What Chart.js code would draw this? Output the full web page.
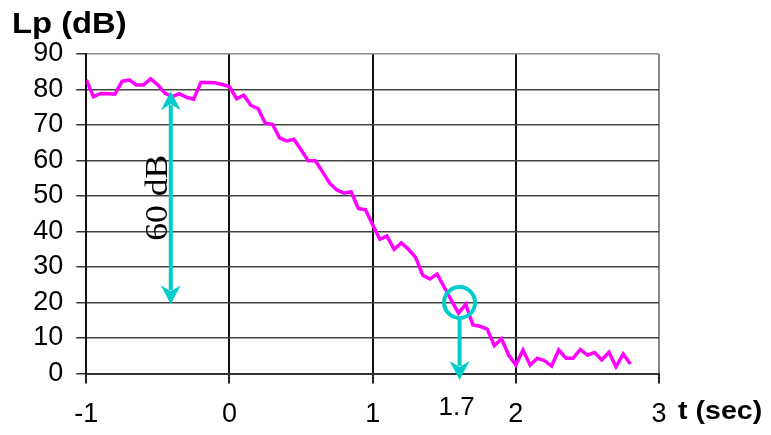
<!DOCTYPE html>
<html>
<head>
<meta charset="utf-8">
<script src="https://cdn.jsdelivr.net/npm/chart.js@4.4.0/dist/chart.umd.min.js"></script>
<style>
  html, body { margin: 0; padding: 0; background: #ffffff; }
  #wrap { width: 771px; height: 435px; }
</style>
</head>
<body>
<div id="wrap"><canvas id="decay" width="771" height="435"></canvas></div>
<script>
// Sound pressure level decay after the source is switched off (t = 0)
const times = [
  -1.00, -0.95, -0.90, -0.85, -0.80, -0.75, -0.70, -0.65, -0.60, -0.55,
  -0.50, -0.45, -0.40, -0.35, -0.30, -0.25, -0.20, -0.15, -0.10, -0.05,
   0.00,  0.05,  0.10,  0.15,  0.20,  0.25,  0.30,  0.35,  0.40,  0.45,
   0.50,  0.55,  0.60,  0.65,  0.70,  0.75,  0.80,  0.85,  0.90,  0.95,
   1.00,  1.05,  1.10,  1.15,  1.20,  1.25,  1.30,  1.35,  1.40,  1.45,
   1.50,  1.55,  1.60,  1.65,  1.70,  1.75,  1.80,  1.85,  1.90,  1.95,
   2.00,  2.05,  2.10,  2.15,  2.20,  2.25,  2.30,  2.35,  2.40,  2.45,
   2.50,  2.55,  2.60,  2.65,  2.70,  2.75,  2.80
];
const levels = [
  82.7, 78.0, 78.9, 78.8, 78.7, 82.3, 82.7, 81.3, 81.3, 83.0,
  81.3, 78.9, 78.0, 78.8, 77.8, 77.3, 82.0, 82.0, 81.9, 81.4,
  80.8, 77.4, 78.4, 75.5, 74.6, 70.5, 70.2, 66.4, 65.5, 66.0,
  63.0, 59.9, 59.9, 56.8, 53.6, 51.7, 50.8, 51.2, 46.5, 46.1,
  41.9, 37.8, 38.7, 35.0, 36.8, 35.0, 32.7, 27.7, 26.6, 28.0,
  24.3, 20.6, 17.0, 19.5, 13.7, 13.3, 12.5,  7.8,  9.8,  5.2,
   2.4,  6.6,  2.4,  4.3,  3.6,  2.1,  6.6,  4.3,  4.3,  6.8,
   5.2,  5.9,  3.8,  6.0,  1.9,  5.5,  2.7
];

// Axis ranges
const timeRange = [-1, 3];
const levelRange = [0, 90];

// 60 dB span marker
const spanTime = -0.41;
const spanTop = 79.5;
const spanDb = 60;

// Where the decay reaches 20 dB
const crossTime = 1.607;
const crossLevel = 20;
const crossLabel = '1.7';

const CYAN = '#00CCCC';
const SANS = "'Liberation Sans', Arial, sans-serif";
const SERIF = "'Liberation Serif', 'Times New Roman', serif";

function drawHead(ctx, x, tipY, dir) {
  // dir = -1 points up, +1 points down
  const len = 19, half = 10, notch = 6;
  ctx.beginPath();
  ctx.moveTo(x, tipY);
  ctx.lineTo(x - half, tipY - dir * len);
  ctx.lineTo(x, tipY - dir * (len - notch));
  ctx.lineTo(x + half, tipY - dir * len);
  ctx.closePath();
  ctx.fill();
}

function wideText(ctx, text, x, y, font, align, sx) {
  ctx.save();
  ctx.font = font;
  ctx.textAlign = align;
  ctx.textBaseline = 'alphabetic';
  ctx.translate(x, y);
  ctx.scale(sx, 1);
  ctx.fillText(text, 0, 0);
  ctx.restore();
}

const decayMarks = {
  id: 'decayMarks',
  afterDatasetsDraw(chart) {
    const { ctx, scales: { x, y } } = chart;
    ctx.save();
    ctx.strokeStyle = CYAN;
    ctx.fillStyle = CYAN;
    ctx.lineWidth = 4;
    ctx.lineCap = 'butt';

    // double arrow spanning 60 dB
    const sx = x.getPixelForValue(spanTime);
    const sTop = y.getPixelForValue(spanTop);
    const sBot = y.getPixelForValue(spanTop - spanDb);
    ctx.beginPath();
    ctx.moveTo(sx, sTop + 14);
    ctx.lineTo(sx, sBot - 14);
    ctx.stroke();
    drawHead(ctx, sx, sTop, -1);
    drawHead(ctx, sx, sBot, 1);

    // circle at 20 dB crossing and drop arrow to the time axis
    const cx = x.getPixelForValue(crossTime);
    const cy = y.getPixelForValue(crossLevel);
    const r = 15.5;
    ctx.beginPath();
    ctx.arc(cx, cy, r, 0, Math.PI * 2);
    ctx.stroke();
    const tip = y.getPixelForValue(-1.8);
    ctx.beginPath();
    ctx.moveTo(cx, cy + r);
    ctx.lineTo(cx, tip - 14);
    ctx.stroke();
    drawHead(ctx, cx, tip, 1);
    ctx.restore();
  },
  afterDraw(chart) {
    const { ctx, scales: { x, y } } = chart;
    ctx.save();
    ctx.fillStyle = '#000000';
    wideText(ctx, 'Lp (dB)', 12, 33, 'bold 29px ' + SANS, 'left', 1.13);
    wideText(ctx, 't (sec)', 678, 419, 'bold 26px ' + SANS, 'left', 1.1);
    wideText(ctx, crossLabel, x.getPixelForValue(crossTime) - 3, 415, '26px ' + SANS, 'center', 1.0);

    // rotated span label
    const sx = x.getPixelForValue(spanTime);
    const mid = (y.getPixelForValue(spanTop) + y.getPixelForValue(spanTop - spanDb)) / 2;
    ctx.save();
    ctx.translate(sx - 4, mid);
    ctx.rotate(-Math.PI / 2);
    ctx.scale(1.15, 1);
    ctx.font = '31px ' + SERIF;
    ctx.textAlign = 'center';
    ctx.textBaseline = 'alphabetic';
    ctx.fillText(spanDb + ' dB', 0, 0);
    ctx.restore();
    ctx.restore();
  }
};

new Chart(document.getElementById('decay'), {
  type: 'line',
  data: {
    datasets: [{
      data: times.map((t, i) => ({ x: t, y: levels[i] })),
      borderColor: '#FF00FF',
      borderWidth: 3.5,
      pointRadius: 0,
      tension: 0,
      fill: false,
      borderJoinStyle: 'miter'
    }]
  },
  options: {
    responsive: false,
    animation: false,
    devicePixelRatio: 1,
    layout: { padding: { left: 0, right: 112, top: 54, bottom: 0 } },
    plugins: { legend: { display: false }, tooltip: { enabled: false } },
    scales: {
      x: {
        type: 'linear',
        min: timeRange[0],
        max: timeRange[1],
        ticks: {
          stepSize: 1,
          color: '#000000',
          padding: 15,
          font: { family: SANS, size: 27 },
          callback: v => v
        },
        grid: {
          color: c => (c.tick && c.tick.value === timeRange[1]) ? '#8a8a8a' : '#111111',
          lineWidth: 2,
          tickLength: 10,
          tickColor: '#222222'
        },
        border: { color: '#333333', width: 2 },
        afterFit(s) { s.height = 61.5; }
      },
      y: {
        min: levelRange[0],
        max: levelRange[1],
        ticks: {
          stepSize: 10,
          color: '#000000',
          padding: 13,
          font: { family: SANS, size: 27 }
        },
        grid: {
          color: c => (c.tick && c.tick.value === levelRange[1]) ? '#8a8a8a' : '#444444',
          lineWidth: 1.5,
          tickLength: 10,
          tickColor: '#333333'
        },
        border: { color: '#111111', width: 2 },
        afterFit(s) { s.width = 86.3; }
      }
    }
  },
  plugins: [decayMarks]
});
</script>
</body>
</html>
